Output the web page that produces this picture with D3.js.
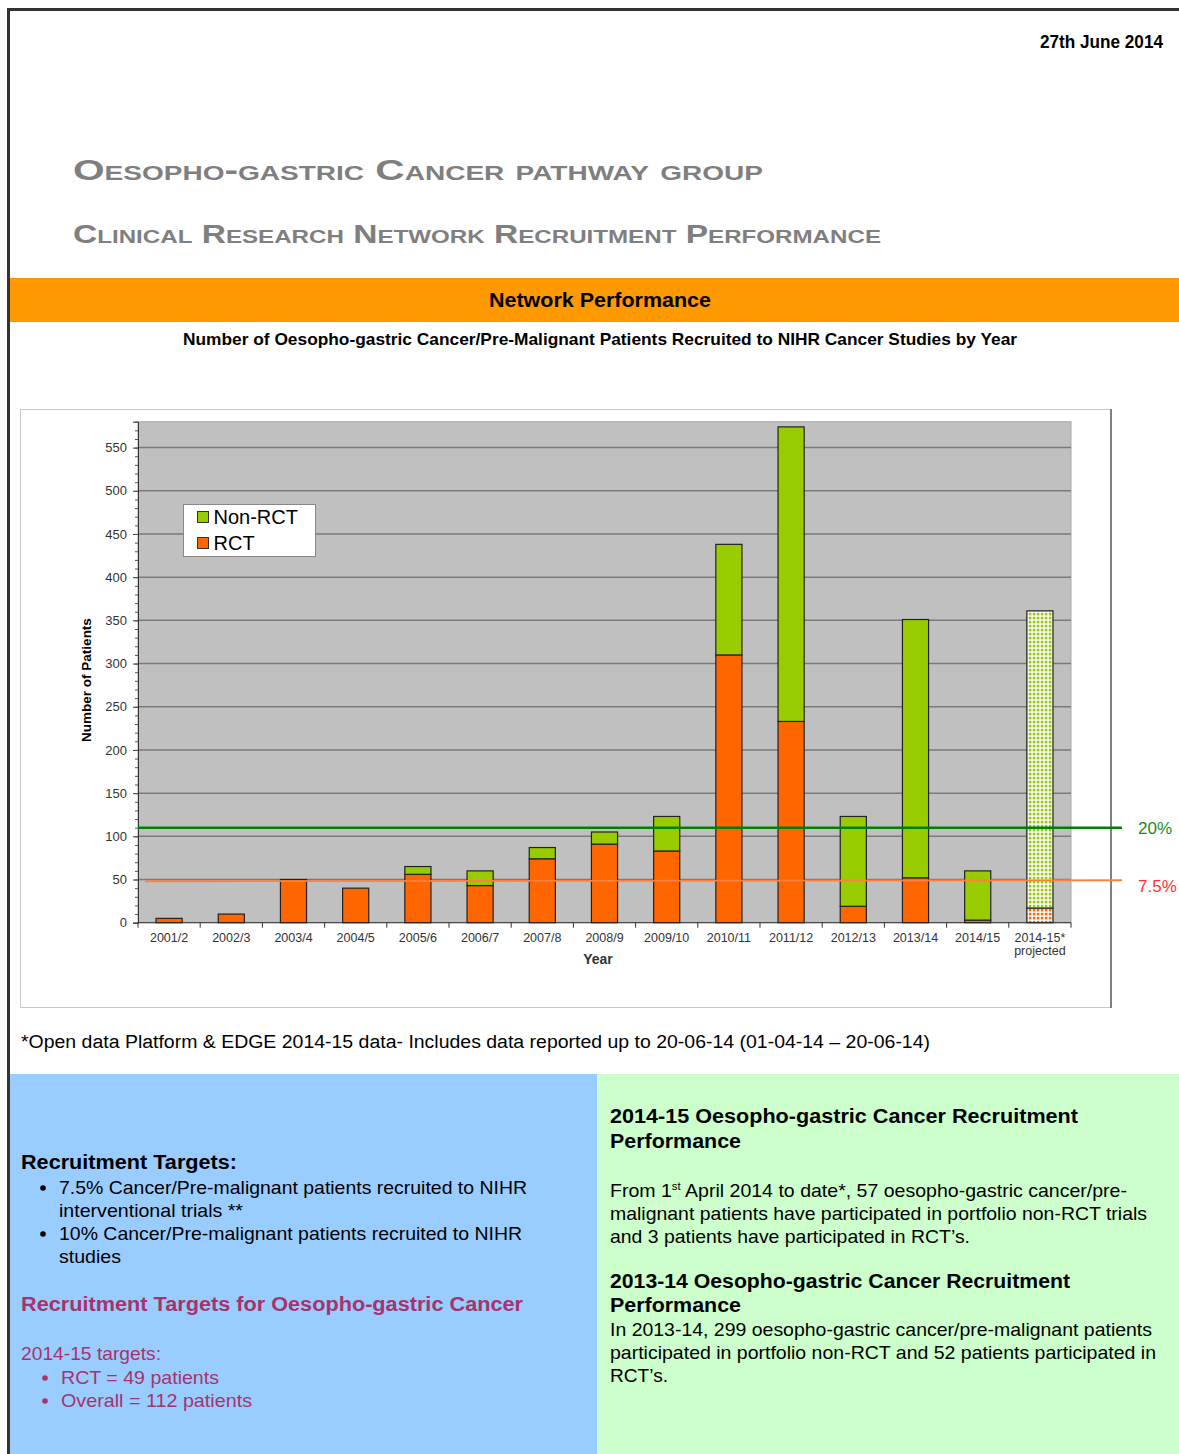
<!DOCTYPE html>
<html>
<head>
<meta charset="utf-8">
<script src="https://cdn.jsdelivr.net/npm/d3@7"></script>
<style>
  body { margin: 0; background: #fff; }
  svg text { font-family: "Liberation Sans", Arial, sans-serif; }
</style>
</head>
<body>
<div id="page"></div>
<script>
// Data
const years = ["2001/2", "2002/3", "2003/4", "2004/5", "2005/6", "2006/7", "2007/8",
  "2008/9", "2009/10", "2010/11", "2011/12", "2012/13", "2013/14", "2014/15", "2014-15*"];
const rct =    [5, 10, 50, 40, 56, 43, 74, 91, 83, 310, 233, 19, 52, 3, 17];
const nonRct = [0, 0, 0, 0, 9, 17, 13, 14, 40, 128, 341, 104, 299, 57, 344];
const yTicks = [0, 50, 100, 150, 200, 250, 300, 350, 400, 450, 500, 550];
const targetOverall = 110; // 20% line
const targetRct = 48;      // 7.5% line
const projectedIdx = 14;

const W = 1179, H = 1454;
const svg = d3.select("#page").append("svg")
    .attr("width", W)
    .attr("height", H);

const defs = svg.append("defs");
// dotted fills for the projected bar
function dotPattern(id, color) {
  const p = defs.append("pattern")
      .attr("id", id)
      .attr("width", 4).attr("height", 4)
      .attr("patternUnits", "userSpaceOnUse");
  p.append("rect").attr("width", 4).attr("height", 4).attr("fill", "#fff");
  p.append("rect").attr("x", 0.8).attr("y", 0.8).attr("width", 2.6).attr("height", 2.6).attr("fill", color);
}
dotPattern("dotGreen", "#99cc00");
dotPattern("dotOrange", "#ff6600");

// page border
svg.append("path")
    .attr("d", `M8.5,${H} V9.5 H${W}`)
    .attr("fill", "none")
    .attr("stroke", "#333")
    .attr("stroke-width", 3);

// helper for a text line with an optional fitted width
function line(txt, xx, yy, opts = {}) {
  const t = svg.append("text")
      .attr("x", xx).attr("y", yy)
      .attr("font-size", opts.size || 19)
      .attr("font-weight", opts.bold ? "bold" : "normal")
      .attr("fill", opts.color || "#000");
  if (opts.anchor) t.attr("text-anchor", opts.anchor);
  if (opts.len) t.attr("textLength", opts.len).attr("lengthAdjust", "spacingAndGlyphs");
  t.text(txt);
  return t;
}
function bullet(xx, yy, color) {
  svg.append("circle")
      .attr("cx", xx).attr("cy", yy)
      .attr("r", 2.8)
      .attr("fill", color || "#000");
}

// header
line("27th June 2014", 1163, 48, { size: 18, bold: true, anchor: "end", len: 123 });

svg.append("text")
    .attr("x", 73).attr("y", 180)
    .attr("font-size", 29).attr("font-weight", "bold")
    .attr("fill", "#7f7f7f")
    .style("font-variant", "small-caps")
    .attr("textLength", 690).attr("lengthAdjust", "spacingAndGlyphs")
    .text("Oesopho-gastric Cancer pathway group");

svg.append("text")
    .attr("x", 73).attr("y", 243)
    .attr("font-size", 25).attr("font-weight", "bold")
    .attr("fill", "#7f7f7f")
    .style("font-variant", "small-caps")
    .attr("textLength", 808).attr("lengthAdjust", "spacingAndGlyphs")
    .text("Clinical Research Network Recruitment Performance");

svg.append("rect")
    .attr("x", 10).attr("y", 278)
    .attr("width", W - 10).attr("height", 44)
    .attr("fill", "#ff9900");
line("Network Performance", 489, 307, { size: 21, bold: true, len: 222 });
line("Number of Oesopho-gastric Cancer/Pre-Malignant Patients Recruited to NIHR Cancer Studies by Year",
    183, 345, { size: 17, bold: true, len: 834 });

// chart frame
svg.append("rect")
    .attr("x", 20.5).attr("y", 409.5)
    .attr("width", 1090).attr("height", 598)
    .attr("fill", "#fff")
    .attr("stroke", "#c8c8c8");
svg.append("line")
    .attr("x1", 1111).attr("x2", 1111)
    .attr("y1", 409).attr("y2", 1008)
    .attr("stroke", "#808080").attr("stroke-width", 2);

// scales
const plot = { left: 138, right: 1071, top: 421.7, bottom: 922.7 };
const x = d3.scaleBand()
    .domain(years)
    .range([plot.left, plot.right])
    .paddingInner(0.58)
    .paddingOuter(0.29);
const y = d3.scaleLinear()
    .domain([0, 580])
    .range([plot.bottom, plot.top]);

const g = svg.append("g");

// plot background
g.append("rect")
    .attr("x", plot.left).attr("y", plot.top)
    .attr("width", plot.right - plot.left)
    .attr("height", plot.bottom - plot.top)
    .attr("fill", "#c0c0c0")
    .attr("stroke", "#a8a8a8");

// gridlines
g.selectAll("line.grid")
    .data(yTicks.filter(d => d > 0))
    .join("line")
    .attr("class", "grid")
    .attr("x1", plot.left).attr("x2", plot.right)
    .attr("y1", d => y(d)).attr("y2", d => y(d))
    .attr("stroke", "#7a7a7a")
    .attr("stroke-width", 1.5);

// y axis with minor ticks
const yAxis = g.append("g")
    .attr("transform", `translate(${plot.left},0)`)
    .call(d3.axisLeft(y).tickValues(yTicks).tickSize(5).tickPadding(6));
yAxis.select(".domain").attr("stroke", "#333");
yAxis.selectAll(".tick line").attr("stroke", "#333");
yAxis.selectAll(".tick text")
    .attr("font-size", 13)
    .attr("fill", "#333")
    .style("font-family", "'Liberation Sans', Arial, sans-serif");
g.append("g")
    .attr("transform", `translate(${plot.left},0)`)
    .call(d3.axisLeft(y).tickValues(d3.range(0, 581, 10)).tickSize(3).tickFormat(""))
    .call(a => a.select(".domain").remove())
    .selectAll("line").attr("stroke", "#555");

svg.append("text")
    .attr("transform", `translate(91,680) rotate(-90)`)
    .attr("text-anchor", "middle")
    .attr("font-size", 13.5).attr("font-weight", "bold")
    .text("Number of Patients");

// x axis: ticks sit between categories
g.append("line")
    .attr("x1", plot.left).attr("x2", plot.right)
    .attr("y1", plot.bottom).attr("y2", plot.bottom)
    .attr("stroke", "#333");
g.selectAll("line.xtick")
    .data(d3.range(years.length + 1))
    .join("line")
    .attr("class", "xtick")
    .attr("x1", i => plot.left + i * x.step())
    .attr("x2", i => plot.left + i * x.step())
    .attr("y1", plot.bottom).attr("y2", plot.bottom + 5)
    .attr("stroke", "#333");
g.selectAll("text.xlab")
    .data(years)
    .join("text")
    .attr("class", "xlab")
    .attr("x", d => x(d) + x.bandwidth() / 2)
    .attr("y", plot.bottom + 19)
    .attr("text-anchor", "middle")
    .attr("font-size", 12.5)
    .attr("fill", "#333")
    .text(d => d);
svg.append("text")
    .attr("x", x(years[projectedIdx]) + x.bandwidth() / 2)
    .attr("y", plot.bottom + 32)
    .attr("text-anchor", "middle")
    .attr("font-size", 12.5)
    .attr("fill", "#333")
    .text("projected");
svg.append("text")
    .attr("x", 598).attr("y", 964)
    .attr("text-anchor", "middle")
    .attr("font-size", 14).attr("font-weight", "bold")
    .attr("fill", "#333")
    .text("Year");

// stacked bars
const rows = years.map((yr, i) => ({ year: yr, RCT: rct[i], NonRCT: nonRct[i], i }));
const stack = d3.stack().keys(["RCT", "NonRCT"])(rows);
const solid = { RCT: "#ff6600", NonRCT: "#99cc00" };
const dotted = { RCT: "url(#dotOrange)", NonRCT: "url(#dotGreen)" };

g.selectAll("g.layer")
    .data(stack)
    .join("g")
    .attr("class", "layer")
    .selectAll("rect")
    .data(layer => layer.map(d => Object.assign(d, { key: layer.key })))
    .join("rect")
    .filter(d => d[1] - d[0] > 0)
    .attr("x", d => x(d.data.year))
    .attr("y", d => y(d[1]))
    .attr("width", x.bandwidth())
    .attr("height", d => y(d[0]) - y(d[1]))
    .attr("fill", d => d.data.i === projectedIdx ? dotted[d.key] : solid[d.key])
    .attr("stroke", "#222")
    .attr("stroke-width", 1.2);

// target lines
g.append("line")
    .attr("x1", plot.left).attr("x2", 1122)
    .attr("y1", y(targetOverall)).attr("y2", y(targetOverall))
    .attr("stroke", "#008000").attr("stroke-width", 2.5);
g.append("line")
    .attr("x1", 145).attr("x2", 1122)
    .attr("y1", y(targetRct)).attr("y2", y(targetRct) - 1)
    .attr("stroke", "#ff7f3f").attr("stroke-width", 1.8);
svg.append("text")
    .attr("x", 1138).attr("y", y(targetOverall) + 6)
    .attr("font-size", 17).attr("fill", "#1a8a1a")
    .text("20%");
svg.append("text")
    .attr("x", 1138).attr("y", y(targetRct) + 11)
    .attr("font-size", 17).attr("fill", "#ff3333")
    .text("7.5%");

// legend
const legend = svg.append("g").attr("transform", "translate(183.5,504.5)");
legend.append("rect")
    .attr("width", 132).attr("height", 52)
    .attr("fill", "#fff").attr("stroke", "#888");
[["Non-RCT", solid.NonRCT], ["RCT", solid.RCT]].forEach(([name, col], i) => {
  legend.append("rect")
      .attr("x", 14).attr("y", 7 + i * 26)
      .attr("width", 11).attr("height", 11)
      .attr("fill", col).attr("stroke", "#333");
  legend.append("text")
      .attr("x", 30).attr("y", 19 + i * 26)
      .attr("font-size", 20)
      .text(name);
});

// footnote
line("*Open data Platform & EDGE 2014-15 data- Includes data reported up to 20-06-14 (01-04-14 \u2013 20-06-14)",
    21, 1048, { size: 18, len: 909 });

// bottom panels
svg.append("rect")
    .attr("x", 10).attr("y", 1074)
    .attr("width", 587).attr("height", H - 1074)
    .attr("fill", "#99ccff");
svg.append("rect")
    .attr("x", 597).attr("y", 1074)
    .attr("width", W - 597).attr("height", H - 1074)
    .attr("fill", "#ccffcc");

const maroon = "#a8336b";
line("Recruitment Targets:", 21, 1169, { size: 20, bold: true, len: 216 });
bullet(43, 1188);
line("7.5% Cancer/Pre-malignant patients recruited to NIHR", 59, 1194, { len: 468 });
line("interventional trials **", 59, 1217, { len: 184 });
bullet(43, 1234);
line("10% Cancer/Pre-malignant patients recruited to NIHR", 59, 1240, { len: 463 });
line("studies", 59, 1263, { len: 62 });
line("Recruitment Targets for Oesopho-gastric Cancer", 21, 1311, { size: 20, bold: true, color: maroon, len: 502 });
line("2014-15 targets:", 21, 1360, { color: maroon, len: 140 });
bullet(45, 1378, maroon);
line("RCT = 49 patients", 61, 1384, { color: maroon, len: 158 });
bullet(45, 1401, maroon);
line("Overall = 112 patients", 61, 1407, { color: maroon, len: 191 });

line("2014-15 Oesopho-gastric Cancer Recruitment", 610, 1123, { size: 20, bold: true, len: 468 });
line("Performance", 610, 1148, { size: 20, bold: true, len: 131 });
const from = line("From 1", 610, 1197);
from.append("tspan").attr("dy", -7).attr("font-size", 11).text("st");
from.append("tspan").attr("dy", 7).text(" April 2014 to date*, 57 oesopho-gastric cancer/pre-");
from.attr("textLength", 517).attr("lengthAdjust", "spacingAndGlyphs");
line("malignant patients have participated in portfolio non-RCT trials", 610, 1220, { len: 537 });
line("and 3 patients have participated in RCT\u2019s.", 610, 1243, { len: 360 });
line("2013-14 Oesopho-gastric Cancer Recruitment", 610, 1288, { size: 20, bold: true, len: 460 });
line("Performance", 610, 1312, { size: 20, bold: true, len: 131 });
line("In 2013-14, 299 oesopho-gastric cancer/pre-malignant patients", 610, 1336, { len: 542 });
line("participated in portfolio non-RCT and 52 patients participated in", 610, 1359, { len: 546 });
line("RCT\u2019s.", 610, 1382, { len: 58 });
</script>
</body>
</html>
